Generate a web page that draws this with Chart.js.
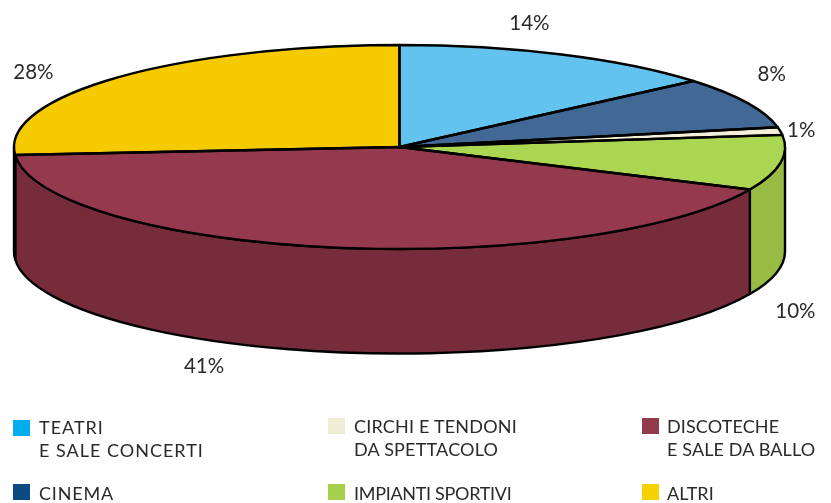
<!DOCTYPE html>
<html><head><meta charset="utf-8">
<script src="https://cdn.jsdelivr.net/npm/chart.js@4"></script>
<style>
html,body{margin:0;padding:0;background:#fff;width:831px;height:503px;overflow:hidden}
#wrap{position:relative;width:831px;height:503px}
canvas{position:absolute;left:0;top:0}
.sw{position:absolute;width:17px;height:16px}
.lg{position:absolute;font:400 18px/23px Lato,sans-serif;color:#2a2a2a;white-space:pre}
</style></head><body>
<div id="wrap"><canvas id="c" width="831" height="503"></canvas></div>
<script>
const categories=['TEATRI E SALE CONCERTI','CINEMA','CIRCHI E TENDONI DA SPETTACOLO','IMPIANTI SPORTIVI','DISCOTECHE E SALE DA BALLO','ALTRI'];
const sliceValues=[13.8,8.1,1.2,8.75,41.9,26.25];
const percentLabels=['14%','8%','1%','10%','41%','28%'];
const topColors=['#62c3ef','#426895','#f3efd8','#abd651','#94394e','#f5cb00'];
const sideColors=['#4f9cbf','#345377','#c2bfad','#97bb43','#772c3c','#c4a200'];
const labelNudges=[[-32,-31],[25,-28],[21,-1],[15,149],[-128,119],[-83,-5]];
const legendRows=[
 {text:'TEATRI\nE SALE CONCERTI',color:'#00aeef',x:13,y:420,tx:39,ty:416,ls:'1px'},
 {text:'CIRCHI E TENDONI\nDA SPETTACOLO',color:'#efedd5',x:328,y:418,tx:354,ty:415,ls:'0.2px'},
 {text:'DISCOTECHE\nE SALE DA BALLO',color:'#943a4f',x:642,y:418,tx:667,ty:415,ls:'0.12px'},
 {text:'CINEMA',color:'#0a4a80',x:13,y:484,tx:39,ty:482,ls:'0.8px'},
 {text:'IMPIANTI SPORTIVI',color:'#a3d14b',x:328,y:484,tx:354,ty:482,ls:'-0.3px'},
 {text:'ALTRI',color:'#f7d100',x:642,y:484,tx:667,ty:482,ls:'0'}
];
const tilt={cx:399.5,cy:147,rx:385.5,ry:102,depth:104.5};
const wrap=document.getElementById('wrap');
legendRows.forEach(r=>{
 const s=document.createElement('div');s.className='sw';s.style.cssText=`left:${r.x}px;top:${r.y}px;background:${r.color}`;wrap.appendChild(s);
 const t=document.createElement('div');t.className='lg';t.style.cssText=`left:${r.tx}px;top:${r.ty}px;letter-spacing:${r.ls}`;t.textContent=r.text;wrap.appendChild(t);
});
const pie3d={
 id:'pie3d',
 beforeDatasetsDraw(chart){
  const ctx=chart.ctx,{cx,cy,rx,ry,depth}=tilt,arcs=chart.getDatasetMeta(0).data;
  ctx.save();ctx.lineJoin='round';ctx.lineWidth=2.4;ctx.strokeStyle='#000';
  arcs.forEach((a,i)=>{
   const s=Math.max(a.startAngle,0),e=Math.min(a.endAngle,Math.PI);
   if(e<=s)return;
   ctx.beginPath();
   ctx.ellipse(cx,cy,rx,ry,0,s,e);
   ctx.ellipse(cx,cy+depth,rx,ry,0,e,s,true);
   ctx.closePath();
   ctx.fillStyle=sideColors[i];ctx.fill();ctx.stroke();
  });
  ctx.restore();
  const a=arcs[0],r=a.outerRadius,k=[rx/r,ry/r];
  ctx.save();
  ctx.translate(cx,cy);ctx.scale(k[0],k[1]);ctx.translate(-a.x,-a.y);
 },
 afterDatasetsDraw(chart){
  const ctx=chart.ctx,{cx,cy,rx,ry}=tilt,arcs=chart.getDatasetMeta(0).data;
  ctx.restore();
  ctx.save();ctx.lineJoin='round';ctx.lineWidth=2.4;ctx.strokeStyle='#000';
  arcs.forEach(a=>{
   ctx.beginPath();ctx.moveTo(cx,cy);
   ctx.ellipse(cx,cy,rx,ry,0,a.startAngle,a.endAngle);
   ctx.closePath();ctx.stroke();
  });
  ctx.fillStyle='#2a2a2a';ctx.font='400 20.5px Lato,sans-serif';ctx.textAlign='center';ctx.textBaseline='middle';
  arcs.forEach((a,i)=>{
   const m=(a.startAngle+a.endAngle)/2;
   ctx.fillText(percentLabels[i],cx+rx*Math.cos(m)+labelNudges[i][0],cy+ry*Math.sin(m)+labelNudges[i][1]);
  });
  ctx.restore();
 }
};
new Chart(document.getElementById('c'),{
 type:'pie',
 data:{labels:categories,datasets:[{data:sliceValues,backgroundColor:topColors,borderWidth:0}]},
 options:{responsive:false,animation:false,events:[],plugins:{legend:{display:false},tooltip:{enabled:false}}},
 plugins:[pie3d]
});
</script>
</body></html>
